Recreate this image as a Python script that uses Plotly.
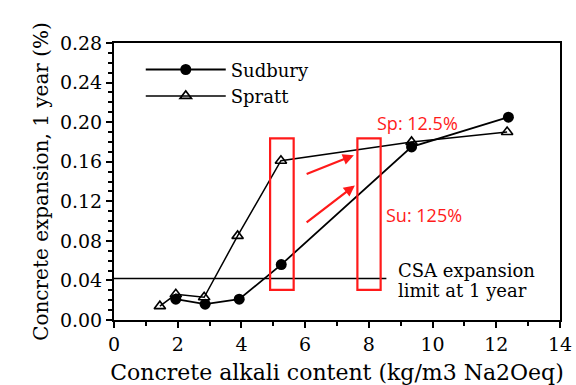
import plotly.graph_objects as go

# Alkali content (kg/m3 Na2Oeq) and 1-year concrete expansion (%)
sudbury_alkali = [1.94, 2.86, 3.93, 5.25, 9.34, 12.38]
sudbury_expansion = [0.021, 0.016, 0.021, 0.056, 0.175, 0.205]

spratt_alkali = [1.44, 1.94, 2.83, 3.88, 5.24, 9.34, 12.34]
spratt_expansion = [0.014, 0.026, 0.023, 0.085, 0.161, 0.180, 0.190]

csa_limit = 0.042
x_ticks = [0, 2, 4, 6, 8, 10, 12, 14]
y_ticks = [0.00, 0.04, 0.08, 0.12, 0.16, 0.20, 0.24, 0.28]

SERIF = "DejaVu Serif"
RED = "#ff1a1a"

fig = go.Figure()

fig.add_trace(go.Scatter(
    x=sudbury_alkali, y=sudbury_expansion, name="Sudbury",
    mode="lines+markers",
    line=dict(color="black", width=1.8),
    marker=dict(symbol="circle", size=11, color="black"),
))
fig.add_trace(go.Scatter(
    x=spratt_alkali, y=spratt_expansion, name="Spratt",
    mode="lines+markers",
    line=dict(color="black", width=1.5),
    marker=dict(symbol="triangle-up-open", size=10, color="black",
                line=dict(width=1.6)),
))

# CSA limit line
fig.add_shape(type="line", x0=0, x1=8.55, y0=csa_limit, y1=csa_limit,
              xref="x", yref="y", line=dict(color="black", width=1.5))

# Highlight boxes around 5.2 and ~8 kg/m3
for x0, x1 in [(4.90, 5.64), (7.64, 8.37)]:
    fig.add_shape(type="rect", x0=x0, x1=x1, y0=0.0305, y1=0.1835,
                  xref="x", yref="y", line=dict(color=RED, width=2.2))

# Arrows between the boxes
for (tx, ty), (hx, hy) in [((6.0, 0.147), (7.53, 0.1665)),
                           ((6.0, 0.0975), (7.56, 0.136))]:
    fig.add_annotation(x=hx, y=hy, ax=tx, ay=ty, xref="x", yref="y",
                       axref="x", ayref="y", text="", showarrow=True,
                       arrowhead=2, arrowsize=1, arrowwidth=2.2,
                       arrowcolor=RED)

fig.add_annotation(x=9.53, y=0.1996, text="Sp: 12.5%", showarrow=False,
                   font=dict(family="Open Sans", size=18, color=RED))
fig.add_annotation(x=9.73, y=0.1065, text="Su: 125%", showarrow=False,
                   font=dict(family="Open Sans", size=18, color=RED))

fig.add_annotation(x=8.84, y=0.0500, text="CSA expansion", showarrow=False,
                   xanchor="left", font=dict(family=SERIF, size=18, color="black"))
fig.add_annotation(x=8.84, y=0.0298, text="limit at 1 year", showarrow=False,
                   xanchor="left", font=dict(family=SERIF, size=18, color="black"))

fig.update_xaxes(
    range=[0, 14], tickvals=x_ticks, ticktext=[str(v) for v in x_ticks],
    ticks="outside", ticklen=6, tickwidth=1.5, tickcolor="black",
    minor=dict(tickvals=[1, 3, 5, 7, 9, 11, 13], ticks="outside",
               ticklen=4, tickwidth=1.5, tickcolor="black"),
    showline=True, linecolor="black", linewidth=2, mirror=True,
    showgrid=False, zeroline=False, automargin=False,
    tickfont=dict(family=SERIF, size=19, color="black"),
    title=dict(text="Concrete alkali content (kg/m3 Na2Oeq)",
               font=dict(family=SERIF, size=22, color="black"), standoff=14),
)
fig.update_yaxes(
    range=[0, 0.28], tickvals=y_ticks, ticktext=[f"{v:.2f}" for v in y_ticks],
    ticks="outside", ticklen=6, tickwidth=1.5, tickcolor="black",
    minor=dict(dtick=0.01, ticks="outside", ticklen=4, tickwidth=1.5,
               tickcolor="black"),
    showline=True, linecolor="black", linewidth=2, mirror=True,
    showgrid=False, zeroline=False, automargin=False,
    tickfont=dict(family=SERIF, size=19, color="black"),
    title=dict(text="Concrete expansion, 1 year (%)",
               font=dict(family=SERIF, size=20, color="black"), standoff=6),
)

fig.update_layout(
    width=576, height=385,
    margin=dict(l=114, r=16, t=43, b=65),
    paper_bgcolor="white", plot_bgcolor="white",
    font=dict(family=SERIF, color="black"),
    showlegend=True,
    legend=dict(x=0.06, y=0.97, xanchor="left", yanchor="top",
                bgcolor="rgba(0,0,0,0)", itemwidth=80,
                font=dict(family=SERIF, size=18, color="black"),
                tracegroupgap=0),
)

fig.write_html("out.html")
